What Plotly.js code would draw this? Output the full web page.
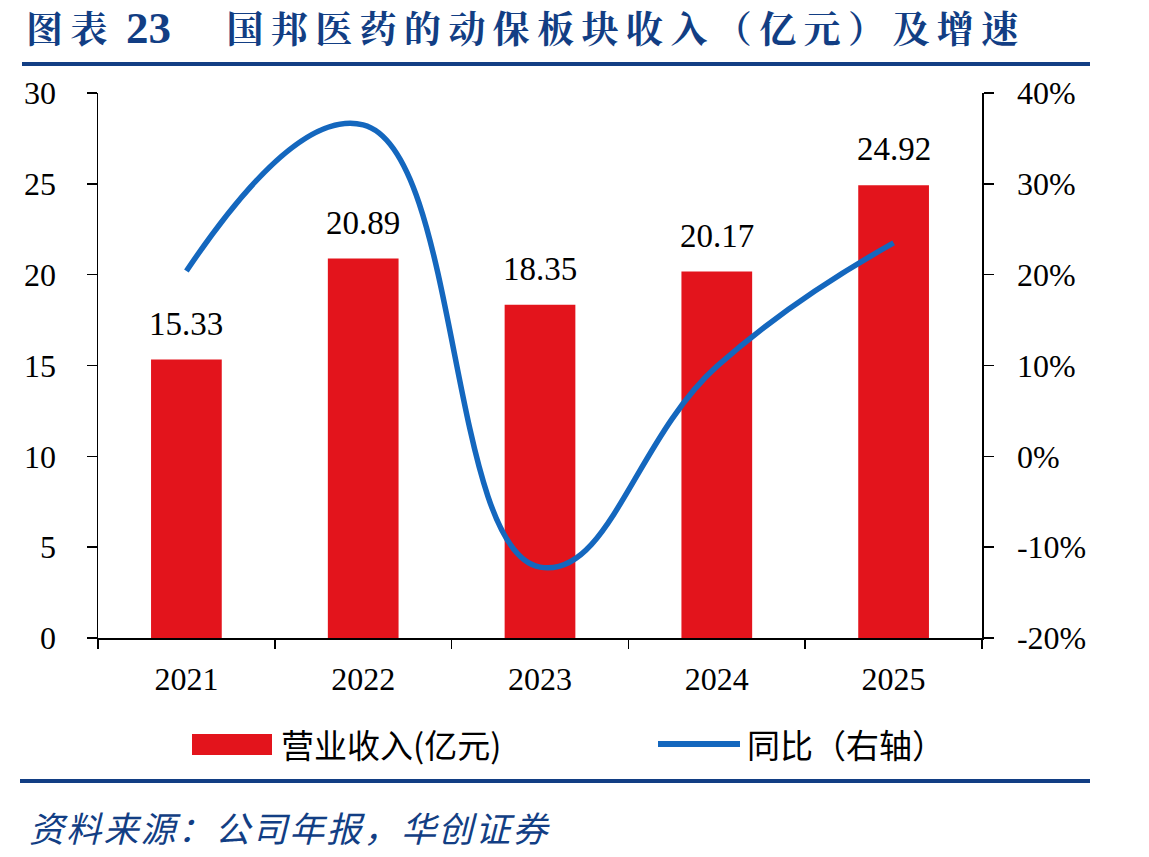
<!DOCTYPE html>
<html>
<head>
<meta charset="utf-8">
<script src="https://cdn.plot.ly/plotly-3.0.1.min.js"></script>
<style>html,body{margin:0;padding:0;background:#fff;}#chart{width:1149px;height:857px;}</style>
</head>
<body>
<div id="chart"></div>
<script>
const years = ['2021', '2022', '2023', '2024', '2025'];
const revenue = [15.33, 20.89, 18.35, 20.17, 24.92];
const growth = [0.204, 0.365, -0.122, 0.099, 0.235];
const revenueLabels = ['15.33', '20.89', '18.35', '20.17', '24.92'];
const leftTicks = [0, 5, 10, 15, 20, 25, 30];
const rightTickVals = [-0.2, -0.1, 0, 0.1, 0.2, 0.3, 0.4];
const rightTickText = ['-20%', '-10%', '0%', '10%', '20%', '30%', '40%'];

const serif = 'Liberation Serif, Times New Roman, serif';
const cjk = 'Noto Sans CJK SC, sans-serif';
const cjkSerif = 'Noto Serif CJK SC, Noto Sans CJK SC, serif';
const red = '#E3141C';
const blue = '#1467BE';
const dark = '#123E84';

const spaced = (s, sp) => Array.from(s).join(sp);

const traces = [
  {type: 'bar', x: years, y: revenue, marker: {color: red}, width: 0.4, name: '营业收入(亿元)', hoverinfo: 'skip'},
  {type: 'scatter', mode: 'lines', x: years, y: growth, yaxis: 'y2', name: '同比（右轴）',
   line: {color: blue, width: 5.5, shape: 'spline', smoothing: 1.3}, hoverinfo: 'skip'}
];

const L = 98, R = 982, T = 93, B = 638;
const px = v => (v - L) / (R - L);
const py = v => (B - v) / (B - T);

const anns = revenue.map((v, i) => ({
  x: i, y: v, xref: 'x', yref: 'y', text: revenueLabels[i], showarrow: false,
  yanchor: 'bottom', yshift: 16, font: {family: serif, size: 33, color: '#000'}
}));

anns.push(
  {xref: 'paper', yref: 'paper', x: px(24), y: py(27), xanchor: 'left', yanchor: 'middle',
   text: '<b>' + spaced('图表', '\u2009') + '\u2002<span style="font-family:Liberation Serif;font-size:45px">23</span>\u2003\u2002' +
         spaced('国邦医药的动保板块收入（亿元）及增速', '\u2009') + '</b>', showarrow: false,
   font: {family: cjkSerif, size: 37, color: dark}},
  {xref: 'paper', yref: 'paper', x: px(27), y: py(826), xanchor: 'left', yanchor: 'middle',
   text: '<i>' + spaced('资料来源：公司年报，华创证券', '\u200A') + '</i>', showarrow: false,
   font: {family: cjk, size: 35, color: dark}},
  {xref: 'paper', yref: 'paper', x: px(279), y: py(744), xanchor: 'left', yanchor: 'middle',
   text: '营业收入(亿元)', showarrow: false, font: {family: cjk, size: 33, color: '#000'}},
  {xref: 'paper', yref: 'paper', x: px(745), y: py(744), xanchor: 'left', yanchor: 'middle',
   text: '同比（右轴）', showarrow: false, font: {family: cjk, size: 33, color: '#000'}}
);

const shapes = [
  {type: 'line', xref: 'paper', yref: 'paper', x0: px(22), x1: px(1090), y0: py(64), y1: py(64), line: {color: dark, width: 4}},
  {type: 'line', xref: 'paper', yref: 'paper', x0: px(20), x1: px(1090), y0: py(781), y1: py(781), line: {color: dark, width: 4}},
  {type: 'rect', xref: 'paper', yref: 'paper', x0: px(192), x1: px(272), y0: py(734), y1: py(755), fillcolor: red, line: {width: 0}},
  {type: 'line', xref: 'paper', yref: 'paper', x0: px(658), x1: px(740), y0: py(744), y1: py(744), line: {color: blue, width: 6}}
];

const layout = {
  width: 1149, height: 857,
  margin: {l: L, r: 1149 - R, t: T, b: 857 - B},
  paper_bgcolor: '#fff', plot_bgcolor: '#fff',
  showlegend: false,
  bargap: 0.6,
  xaxis: {type: 'category', range: [-0.5, 4.5], tickson: 'boundaries', ticks: 'outside', ticklen: 9, tickwidth: 1.5, tickcolor: '#000',
    showline: true, linecolor: '#000', linewidth: 1.5, showgrid: false, zeroline: false, tickangle: 0,
    tickfont: {family: serif, size: 32, color: '#000'}, ticklabelstandoff: 12},
  yaxis: {range: [0, 30], tickvals: leftTicks, ticks: 'outside', ticklen: 10, tickwidth: 1.5, tickcolor: '#000',
    showline: true, linecolor: '#000', linewidth: 1.5, showgrid: false, zeroline: false,
    tickfont: {family: serif, size: 32, color: '#000'}, ticklabelstandoff: 24},
  yaxis2: {overlaying: 'y', side: 'right', range: [-0.2, 0.4], tickvals: rightTickVals, ticktext: rightTickText,
    ticks: 'outside', ticklen: 10, tickwidth: 1.5, tickcolor: '#000',
    showline: true, linecolor: '#000', linewidth: 1.5, showgrid: false, zeroline: false,
    tickfont: {family: serif, size: 32, color: '#000'}, ticklabelstandoff: 17},
  annotations: anns,
  shapes: shapes
};

Plotly.newPlot('chart', traces, layout, {staticPlot: true, displayModeBar: false});
</script>
</body>
</html>
